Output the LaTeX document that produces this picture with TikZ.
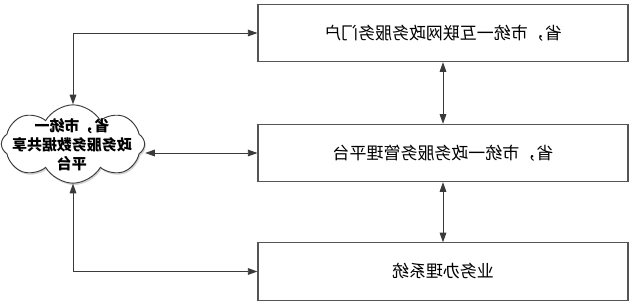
\documentclass[tikz,border=0pt]{standalone}
\usepackage{fontspec}
\usepackage{graphicx}
\usepackage{tikz}
\usetikzlibrary{arrows.meta, positioning, shapes.symbols, shadows}
\setmainfont{Noto Sans CJK SC}
\definecolor{lineg}{HTML}{3A3A3A}
\definecolor{boxg}{HTML}{555555}

\begin{document}
\begin{tikzpicture}[
    x=0.03cm, y=-0.03cm,
    panel/.style={draw=boxg, line width=0.9pt, fill=white,
                  minimum width=11.1cm, minimum height=1.72cm,
                  font=\fontsize{14.5}{17}\selectfont},
    cloudbox/.style={cloud, cloud puffs=8, cloud puff arc=120, aspect=1.9,
                     draw=lineg, line width=0.8pt, fill=white,
                     minimum width=4.3cm, minimum height=2.35cm, inner sep=0pt,
                     drop shadow={shadow xshift=1pt, shadow yshift=-1.6pt, fill=gray!70}},
    cloudtext/.style={font=\fontsize{12.8}{16}\selectfont\bfseries},
    link/.style={lineg, line width=0.8pt, {Triangle[length=2.9mm,width=2mm]}-{Triangle[length=2.9mm,width=2mm]}},
]
    \useasboundingbox (0,0) rectangle (630,305);

    \node[panel] (portal) at (443,33) {\reflectbox{省，市统一互联网政务服务门户}};
    \node[panel] (mgmt) at (443,153) {\reflectbox{省，市统一政务服务管理平台}};
    \node[panel] (biz) at (443,271.5) {\reflectbox{业务办理系统}};

    \node[cloudbox] (share) at (73,144) {};
    \node[cloudtext] (sharetxt) at (72,147) {\reflectbox{\renewcommand\arraystretch{1.0}%
        \begin{tabular}{@{}c@{}}省，市统一\\政务服务数据共享\\平台\end{tabular}}};

    \draw[link] (share.north) |- (portal.west);
    \draw[link] (share.east |- mgmt.west) -- (mgmt.west);
    \draw[link] (share.south) |- (biz.west);
    \draw[link] (portal.south) -- (mgmt.north);
    \draw[link] (mgmt.south) -- (biz.north);
\end{tikzpicture}
\end{document}
